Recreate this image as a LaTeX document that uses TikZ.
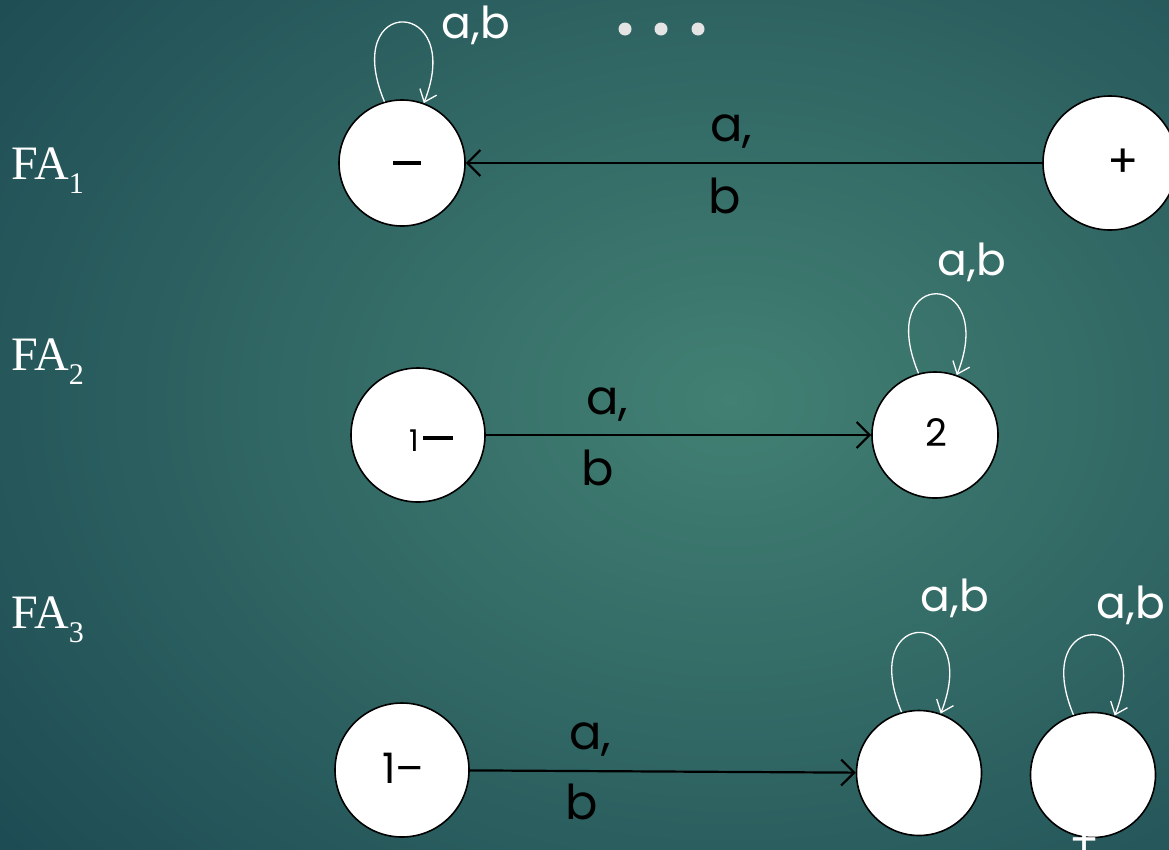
\documentclass[tikz,border=0pt]{standalone}
\usepackage{fontspec}
\setmainfont{Poppins}
\newfontfamily\serifface{Liberation Serif}
\usetikzlibrary{arrows.meta}
\definecolor{bgdark}{RGB}{30,76,84}
\definecolor{bglight}{RGB}{66,128,115}
\definecolor{dotgray}{RGB}{228,228,228}
\newcommand{\fasub}[1]{\raisebox{-14pt}{\fontsize{30}{32}\selectfont #1}}
\tikzset{
  x=1pt, y=-1pt,
  state/.style={circle, draw=black, line width=1.6pt, fill=white, inner sep=0pt},
  edge/.style={draw=black, line width=2.2pt, -{Straight Barb[length=13pt,width=26pt,line width=2.2pt]}},
  selfloop/.style={draw=white, line width=1.3pt, -{Straight Barb[length=11pt,width=18pt,line width=1.3pt]}},
  elabel/.style={text=black, font=\fontsize{48}{52}\selectfont, inner sep=0pt},
  looplabel/.style={text=white, font=\fontsize{44}{48}\selectfont, inner sep=0pt},
  falabel/.style={text=white, font=\serifface\fontsize{48}{52}\selectfont, anchor=base west, inner sep=0pt},
  dashbar/.style={fill=black},
}
\begin{document}
\begin{tikzpicture}
\useasboundingbox (0,0) rectangle (1169,849);
\clip (0,0) rectangle (1169,849);
% background
\fill[bgdark] (0,0) rectangle (1169,849);
\shade[inner color=bglight, outer color=bgdark] (-200,-300) rectangle (1660,1100);

% row labels
\node[falabel] (fa1) at (11,179) {FA\fasub{1}};
\node[falabel] (fa2) at (11,370) {FA\fasub{2}};
\node[falabel] (fa3) at (11,628) {FA\fasub{3}};

% FA1
\node[state, minimum size=126pt] (m1) at (402,163) {};
\node[state, minimum size=134pt] (p1) at (1110,163) {};
\node[text=black, font=\fontsize{46}{48}\selectfont] (p1t) at (1123,163) {+};
\draw[edge] (p1) -- (m1);
\fill[dashbar] (393,161) rectangle (421,165);
\node[elabel] (l1a) at (731,132) {a,};
\node[elabel] (l1b) at (725,196) {b};
\draw[selfloop] (m1.106) .. controls +(-45,-108) and +(42,-106) .. (m1.70);
\node[looplabel] (l1loop) at (476,25) {a,b};
\fill[dotgray] (625,29) circle (6.5) (661,29) circle (6.5) (698,29) circle (6.5);

% FA2
\node[state, minimum size=134pt] (s21) at (418,435) {};
\node[text=black, font=\fontsize{30}{32}\selectfont] (s21a) at (414,441) {1};
\fill[dashbar] (423,436) rectangle (453,440);
\node[state, minimum size=126pt] (s22) at (935,435) {};
\node[text=black, font=\fontsize{38}{40}\selectfont] (s22t) at (936,433) {2};
\draw[edge] (s21) -- (s22);
\node[elabel] (l2a) at (607,405) {a,};
\node[elabel] (l2b) at (598,468) {b};
\draw[selfloop] (s22.105) .. controls +(-45,-108) and +(42,-106) .. (s22.70);
\node[looplabel] (l2loop) at (972,262) {a,b};

% FA3
\node[state, minimum size=134pt] (s31) at (402,770) {};
\node[text=black, font=\fontsize{42}{44}\selectfont] (s31t) at (403,768) {1–};
\node[state, minimum size=125pt] (s32) at (919,773) {};
\node[state, minimum size=125pt] (s33) at (1093,775) {};
\draw[edge] (s31) -- (s32);
\node[elabel] (l3a) at (590,740) {a,};
\node[elabel] (l3b) at (582,802) {b};
\draw[selfloop] (s32.106) .. controls +(-45,-108) and +(42,-106) .. (s32.70);
\draw[selfloop] (s33.108) .. controls +(-45,-108) and +(42,-106) .. (s33.70);
\node[looplabel] (l3loop) at (955,598) {a,b};
\node[looplabel] (l4loop) at (1131,605) {a,b};
\node[text=white, font=\fontsize{44}{48}\selectfont] (s33plus) at (1085,842) {+};
\end{tikzpicture}
\end{document}
